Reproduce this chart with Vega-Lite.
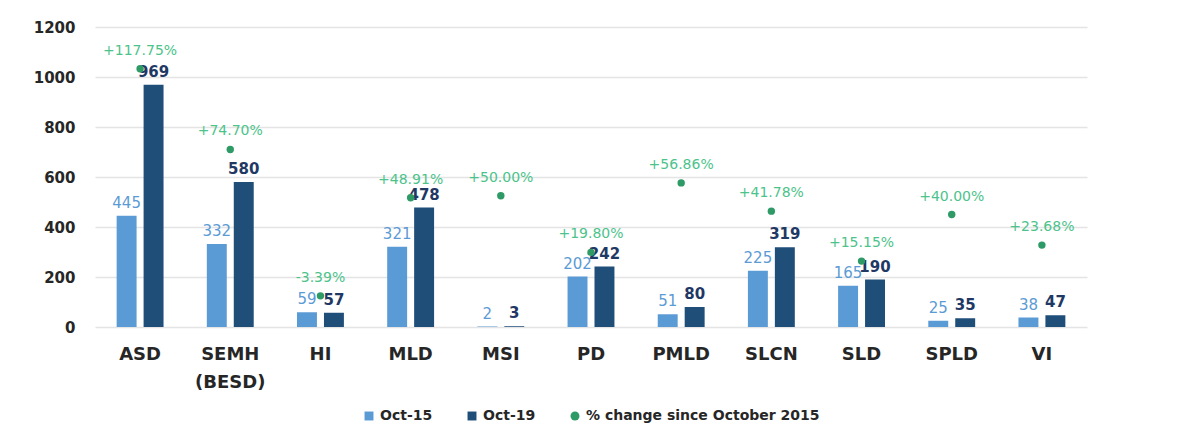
{
  "$schema": "https://vega.github.io/schema/vega-lite/v6.json",
  "width": 992,
  "height": 300,
  "padding": {"left": 33, "top": 20, "right": 100, "bottom": 5},
  "background": "white",
  "config": {"view": {"stroke": null}, "font": "DejaVu Sans", "legend": {"layout": {"bottom": {"anchor": "middle"}}}},
  "data": {"values": [
    {"category": "ASD", "series": "Oct-15", "value": 445},
    {"category": "ASD", "series": "Oct-19", "value": 969},
    {"category": "ASD", "series": "% change since October 2015", "value": 1.1775, "label": "+117.75%"},
    {"category": "SEMH (BESD)", "series": "Oct-15", "value": 332},
    {"category": "SEMH (BESD)", "series": "Oct-19", "value": 580},
    {"category": "SEMH (BESD)", "series": "% change since October 2015", "value": 0.747, "label": "+74.70%"},
    {"category": "HI", "series": "Oct-15", "value": 59},
    {"category": "HI", "series": "Oct-19", "value": 57},
    {"category": "HI", "series": "% change since October 2015", "value": -0.0339, "label": "-3.39%"},
    {"category": "MLD", "series": "Oct-15", "value": 321},
    {"category": "MLD", "series": "Oct-19", "value": 478},
    {"category": "MLD", "series": "% change since October 2015", "value": 0.4891, "label": "+48.91%"},
    {"category": "MSI", "series": "Oct-15", "value": 2},
    {"category": "MSI", "series": "Oct-19", "value": 3},
    {"category": "MSI", "series": "% change since October 2015", "value": 0.5, "label": "+50.00%"},
    {"category": "PD", "series": "Oct-15", "value": 202},
    {"category": "PD", "series": "Oct-19", "value": 242},
    {"category": "PD", "series": "% change since October 2015", "value": 0.198, "label": "+19.80%"},
    {"category": "PMLD", "series": "Oct-15", "value": 51},
    {"category": "PMLD", "series": "Oct-19", "value": 80},
    {"category": "PMLD", "series": "% change since October 2015", "value": 0.5686, "label": "+56.86%"},
    {"category": "SLCN", "series": "Oct-15", "value": 225},
    {"category": "SLCN", "series": "Oct-19", "value": 319},
    {"category": "SLCN", "series": "% change since October 2015", "value": 0.4178, "label": "+41.78%"},
    {"category": "SLD", "series": "Oct-15", "value": 165},
    {"category": "SLD", "series": "Oct-19", "value": 190},
    {"category": "SLD", "series": "% change since October 2015", "value": 0.1515, "label": "+15.15%"},
    {"category": "SPLD", "series": "Oct-15", "value": 25},
    {"category": "SPLD", "series": "Oct-19", "value": 35},
    {"category": "SPLD", "series": "% change since October 2015", "value": 0.4, "label": "+40.00%"},
    {"category": "VI", "series": "Oct-15", "value": 38},
    {"category": "VI", "series": "Oct-19", "value": 47},
    {"category": "VI", "series": "% change since October 2015", "value": 0.2368, "label": "+23.68%"}
  ]},
  "encoding": {
    "x": {
      "field": "category", "type": "nominal", "sort": null, "title": null,
      "scale": {"paddingInner": 0.48, "paddingOuter": 0.24},
      "axis": {
        "labelAngle": 0, "labelFontSize": 18, "labelFontWeight": "bold", "labelColor": "#262626",
        "labelPadding": 18, "ticks": false, "domain": false, "labelLineHeight": 28,
        "labelExpr": "datum.value == 'SEMH (BESD)' ? ['SEMH', '(BESD)'] : datum.label"
      }
    }
  },
  "layer": [
    {
      "transform": [{"filter": "datum.series != '% change since October 2015'"}],
      "encoding": {
        "y": {"field": "value", "type": "quantitative", "title": null,
          "scale": {"domain": [0, 1200]},
          "axis": {"values": [0, 200, 400, 600, 800, 1000, 1200], "format": "d", "labelFontSize": 15, "labelFontWeight": "bold",
            "labelColor": "#262626", "labelPadding": 20, "ticks": false, "domain": false,
            "gridColor": "#e4e4e4", "gridWidth": 1.5}},
        "xOffset": {"field": "series", "type": "nominal", "sort": ["Oct-15", "Oct-19"], "scale": {"paddingInner": 0.26}}
      },
      "layer": [
        {
          "mark": {"type": "bar"},
          "encoding": {
            "color": {"field": "series", "type": "nominal",
              "scale": {"domain": ["Oct-15", "Oct-19", "% change since October 2015"], "range": ["#5b9bd5", "#1f4e79", "#2e9a66"]},
              "legend": {"title": null, "orient": "bottom", "direction": "horizontal", "labelFontSize": 14,
                "labelFontWeight": "bold", "labelColor": "#262626", "labelLimit": 400, "symbolSize": 80, "columnPadding": 32, "offset": 18}}
          }
        },
        {
          "transform": [{"filter": "datum.series == 'Oct-15'"}],
          "mark": {"type": "text", "baseline": "bottom", "dy": -5, "fontSize": 15, "color": "#5b9bd5"},
          "encoding": {"text": {"field": "value", "type": "quantitative"}}
        },
        {
          "transform": [{"filter": "datum.series == 'Oct-19'"}],
          "mark": {"type": "text", "baseline": "bottom", "dy": -5, "fontSize": 15, "fontWeight": "bold", "color": "#1f3864"},
          "encoding": {"text": {"field": "value", "type": "quantitative"}}
        }
      ]
    },
    {
      "transform": [{"filter": "datum.series == '% change since October 2015'"}],
      "encoding": {
        "y": {"field": "value", "type": "quantitative", "scale": {"domain": [-0.2, 1.4]}, "axis": null}
      },
      "layer": [
        {
          "mark": {"type": "point", "filled": true, "size": 55, "opacity": 1},
          "encoding": {
            "color": {"field": "series", "type": "nominal"},
            "shape": {"field": "series", "type": "nominal",
              "scale": {"domain": ["Oct-15", "Oct-19", "% change since October 2015"], "range": ["square", "square", "circle"]}}
          }
        },
        {
          "mark": {"type": "text", "baseline": "bottom", "dy": -11, "fontSize": 14, "color": "#4cc38a"},
          "encoding": {"text": {"field": "label"}}
        }
      ]
    }
  ],
  "resolve": {"scale": {"y": "independent"}}
}
